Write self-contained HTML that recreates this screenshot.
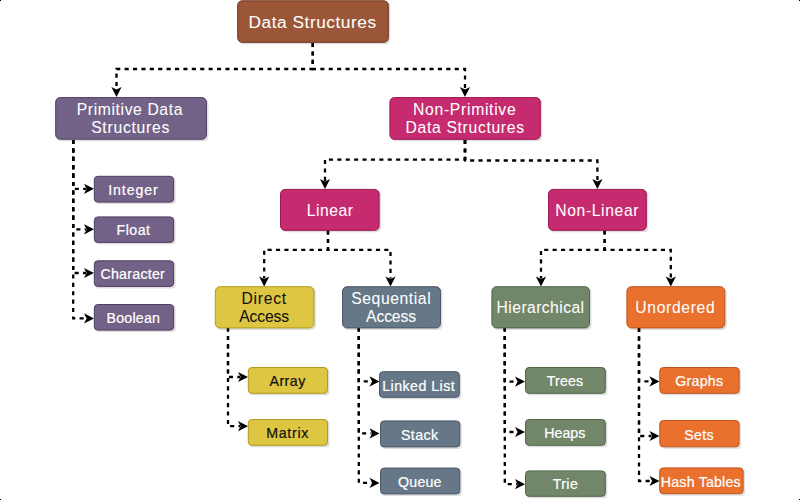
<!DOCTYPE html>
<html><head><meta charset="utf-8"><style>
html,body{margin:0;padding:0;background:#fff;width:800px;height:500px;overflow:hidden}
svg{display:block}
text{font-family:"Liberation Sans",sans-serif}
</style></head><body>
<svg width="800" height="500" viewBox="0 0 800 500">
<g fill="none" stroke="#000" stroke-width="2.3" stroke-dasharray="4.1 4.3">
<path d="M312.7 43 L312.7 69 L116.5 69 L116.5 89"/>
<path d="M312.7 43 L312.7 69 L465 69 L465 89"/>
<path d="M464.6 140 L464.6 159.6 L325 159.6 L325 181"/>
<path d="M465.4 140 L465.4 160.5 L597.4 160.5 L597.4 181"/>
<path d="M328 230.5 L328 249.8 L264.2 249.8 L264.2 278.5"/>
<path d="M328 230.5 L328 249.8 L390.5 249.8 L390.5 278.5"/>
<path d="M604.6 230.5 L604.6 249.8 L541 249.8 L541 278.5"/>
<path d="M604.6 230.5 L604.6 249.8 L670.8 249.8 L670.8 278.5"/>
<path d="M73.2 140 L73.2 188.8 L86 188.8"/>
<path d="M73.2 140 L73.2 229.3 L86 229.3"/>
<path d="M73.2 140 L73.2 273 L86 273"/>
<path d="M73.2 140 L73.2 318.4 L86 318.4"/>
<path d="M228 327.5 L228 377 L240 377"/>
<path d="M228 327.5 L228 426.2 L240 426.2"/>
<path d="M358.8 327.5 L358.8 381.4 L371.5 381.4"/>
<path d="M358.8 327.5 L358.8 433.4 L371.5 433.4"/>
<path d="M358.8 327.5 L358.8 482.9 L371.5 482.9"/>
<path d="M504.8 327.5 L504.8 381.6 L517 381.6"/>
<path d="M504.8 327.5 L504.8 432 L517 432"/>
<path d="M504.8 327.5 L504.8 484.2 L517 484.2"/>
<path d="M639 328 L639 381.4 L651.5 381.4"/>
<path d="M639 328 L639 436 L651.5 436"/>
<path d="M639 328 L639 481 L651.5 481"/>
</g>
<g fill="#000"><path d="M116.5 97 L111.4 87 L116.5 89.6 L121.6 87 Z"/><path d="M465 97 L459.9 87 L465 89.6 L470.1 87 Z"/><path d="M325 189 L319.9 179 L325 181.6 L330.1 179 Z"/><path d="M597.4 189 L592.3 179 L597.4 181.6 L602.5 179 Z"/><path d="M264.2 286.5 L259.09999999999997 276.5 L264.2 279.1 L269.3 276.5 Z"/><path d="M390.5 286.5 L385.4 276.5 L390.5 279.1 L395.6 276.5 Z"/><path d="M541 286.5 L535.9 276.5 L541 279.1 L546.1 276.5 Z"/><path d="M670.8 286.5 L665.6999999999999 276.5 L670.8 279.1 L675.9 276.5 Z"/><path d="M94 188.8 L84 183.70000000000002 L86.6 188.8 L84 193.9 Z"/><path d="M94 229.3 L84 224.20000000000002 L86.6 229.3 L84 234.4 Z"/><path d="M94 273 L84 267.9 L86.6 273 L84 278.1 Z"/><path d="M94 318.4 L84 313.29999999999995 L86.6 318.4 L84 323.5 Z"/><path d="M248 377 L238 371.9 L240.6 377 L238 382.1 Z"/><path d="M248 426.2 L238 421.09999999999997 L240.6 426.2 L238 431.3 Z"/><path d="M379.5 381.4 L369.5 376.29999999999995 L372.1 381.4 L369.5 386.5 Z"/><path d="M379.5 433.4 L369.5 428.29999999999995 L372.1 433.4 L369.5 438.5 Z"/><path d="M379.5 482.9 L369.5 477.79999999999995 L372.1 482.9 L369.5 488.0 Z"/><path d="M525 381.6 L515 376.5 L517.6 381.6 L515 386.70000000000005 Z"/><path d="M525 432 L515 426.9 L517.6 432 L515 437.1 Z"/><path d="M525 484.2 L515 479.09999999999997 L517.6 484.2 L515 489.3 Z"/><path d="M659.5 381.4 L649.5 376.29999999999995 L652.1 381.4 L649.5 386.5 Z"/><path d="M659.5 436 L649.5 430.9 L652.1 436 L649.5 441.1 Z"/><path d="M659.5 481 L649.5 475.9 L652.1 481 L649.5 486.1 Z"/></g>
<rect x="238.7" y="1.8" width="151.60000000000002" height="42.5" rx="4.5" fill="#000" opacity="0.13"/>
<rect x="237.7" y="0.8" width="150.60000000000002" height="41.5" rx="4.5" fill="#9A5636" stroke="#6E3419" stroke-width="1"/>
<rect x="56.7" y="98.6" width="151.7" height="42.599999999999994" rx="4.5" fill="#000" opacity="0.13"/>
<rect x="55.7" y="97.6" width="150.7" height="41.599999999999994" rx="4.5" fill="#736287" stroke="#4E3F63" stroke-width="1"/>
<rect x="390.9" y="98.6" width="151.39999999999998" height="42.70000000000002" rx="4.5" fill="#000" opacity="0.13"/>
<rect x="389.9" y="97.6" width="150.39999999999998" height="41.70000000000002" rx="4.5" fill="#C62A6F" stroke="#9C1650" stroke-width="1"/>
<rect x="95.3" y="177.3" width="80.3" height="26.799999999999983" rx="3.5" fill="#000" opacity="0.13"/>
<rect x="94.3" y="176.3" width="79.3" height="25.799999999999983" rx="3.5" fill="#736287" stroke="#4E3F63" stroke-width="1"/>
<rect x="95.3" y="217.9" width="80.3" height="26.5" rx="3.5" fill="#000" opacity="0.13"/>
<rect x="94.3" y="216.9" width="79.3" height="25.5" rx="3.5" fill="#736287" stroke="#4E3F63" stroke-width="1"/>
<rect x="95.3" y="261.8" width="80.3" height="26.599999999999966" rx="3.5" fill="#000" opacity="0.13"/>
<rect x="94.3" y="260.8" width="79.3" height="25.599999999999966" rx="3.5" fill="#736287" stroke="#4E3F63" stroke-width="1"/>
<rect x="95.3" y="305.5" width="80.3" height="26.600000000000023" rx="3.5" fill="#000" opacity="0.13"/>
<rect x="94.3" y="304.5" width="79.3" height="25.600000000000023" rx="3.5" fill="#736287" stroke="#4E3F63" stroke-width="1"/>
<rect x="281.5" y="190.4" width="99.60000000000002" height="41.900000000000006" rx="4.5" fill="#000" opacity="0.13"/>
<rect x="280.5" y="189.4" width="98.60000000000002" height="40.900000000000006" rx="4.5" fill="#C62A6F" stroke="#9C1650" stroke-width="1"/>
<rect x="549.5" y="190.4" width="98.79999999999995" height="41.900000000000006" rx="4.5" fill="#000" opacity="0.13"/>
<rect x="548.5" y="189.4" width="97.79999999999995" height="40.900000000000006" rx="4.5" fill="#C62A6F" stroke="#9C1650" stroke-width="1"/>
<rect x="216.3" y="287.7" width="99.59999999999997" height="42.19999999999999" rx="4.5" fill="#000" opacity="0.13"/>
<rect x="215.3" y="286.7" width="98.59999999999997" height="41.19999999999999" rx="4.5" fill="#DEC642" stroke="#B09A20" stroke-width="1"/>
<rect x="343.5" y="287.7" width="99" height="42.19999999999999" rx="4.5" fill="#000" opacity="0.13"/>
<rect x="342.5" y="286.7" width="98" height="41.19999999999999" rx="4.5" fill="#667788" stroke="#4A5868" stroke-width="1"/>
<rect x="492.9" y="287.7" width="98.60000000000002" height="42.19999999999999" rx="4.5" fill="#000" opacity="0.13"/>
<rect x="491.9" y="286.7" width="97.60000000000002" height="41.19999999999999" rx="4.5" fill="#728769" stroke="#526649" stroke-width="1"/>
<rect x="627.9" y="287.7" width="98.89999999999998" height="42.19999999999999" rx="4.5" fill="#000" opacity="0.13"/>
<rect x="626.9" y="286.7" width="97.89999999999998" height="41.19999999999999" rx="4.5" fill="#E9702D" stroke="#C0541A" stroke-width="1"/>
<rect x="249.3" y="368.5" width="80.19999999999999" height="26.80000000000001" rx="3.5" fill="#000" opacity="0.13"/>
<rect x="248.3" y="367.5" width="79.19999999999999" height="25.80000000000001" rx="3.5" fill="#DEC642" stroke="#B09A20" stroke-width="1"/>
<rect x="249.3" y="420.5" width="80.19999999999999" height="26.80000000000001" rx="3.5" fill="#000" opacity="0.13"/>
<rect x="248.3" y="419.5" width="79.19999999999999" height="25.80000000000001" rx="3.5" fill="#DEC642" stroke="#B09A20" stroke-width="1"/>
<rect x="380.5" y="372.7" width="80.80000000000001" height="26.600000000000023" rx="3.5" fill="#000" opacity="0.13"/>
<rect x="379.5" y="371.7" width="79.80000000000001" height="25.600000000000023" rx="3.5" fill="#667788" stroke="#4A5868" stroke-width="1"/>
<rect x="381.5" y="421.9" width="80.30000000000001" height="27.0" rx="3.5" fill="#000" opacity="0.13"/>
<rect x="380.5" y="420.9" width="79.30000000000001" height="26.0" rx="3.5" fill="#667788" stroke="#4A5868" stroke-width="1"/>
<rect x="381.5" y="469.1" width="80.30000000000001" height="26.799999999999955" rx="3.5" fill="#000" opacity="0.13"/>
<rect x="380.5" y="468.1" width="79.30000000000001" height="25.799999999999955" rx="3.5" fill="#667788" stroke="#4A5868" stroke-width="1"/>
<rect x="526.5" y="368.5" width="80.79999999999995" height="26.80000000000001" rx="3.5" fill="#000" opacity="0.13"/>
<rect x="525.5" y="367.5" width="79.79999999999995" height="25.80000000000001" rx="3.5" fill="#728769" stroke="#526649" stroke-width="1"/>
<rect x="526.5" y="420.5" width="80.79999999999995" height="26.80000000000001" rx="3.5" fill="#000" opacity="0.13"/>
<rect x="525.5" y="419.5" width="79.79999999999995" height="25.80000000000001" rx="3.5" fill="#728769" stroke="#526649" stroke-width="1"/>
<rect x="526.5" y="471.9" width="80.79999999999995" height="26.400000000000034" rx="3.5" fill="#000" opacity="0.13"/>
<rect x="525.5" y="470.9" width="79.79999999999995" height="25.400000000000034" rx="3.5" fill="#728769" stroke="#526649" stroke-width="1"/>
<rect x="660.8" y="368.5" width="80.30000000000007" height="26.80000000000001" rx="3.5" fill="#000" opacity="0.13"/>
<rect x="659.8" y="367.5" width="79.30000000000007" height="25.80000000000001" rx="3.5" fill="#E9702D" stroke="#C0541A" stroke-width="1"/>
<rect x="660.8" y="421.5" width="80.20000000000005" height="27.30000000000001" rx="3.5" fill="#000" opacity="0.13"/>
<rect x="659.8" y="420.5" width="79.20000000000005" height="26.30000000000001" rx="3.5" fill="#E9702D" stroke="#C0541A" stroke-width="1"/>
<rect x="660.7" y="468.9" width="84.39999999999998" height="26.80000000000001" rx="3.5" fill="#000" opacity="0.13"/>
<rect x="659.7" y="467.9" width="83.39999999999998" height="25.80000000000001" rx="3.5" fill="#E9702D" stroke="#C0541A" stroke-width="1"/>
<text transform="scale(1.0,1)" x="248.51" y="28.35" font-size="17.3" fill="#fff" textLength="127.57" lengthAdjust="spacing" stroke="#fff" stroke-width="0.06">Data Structures</text>
<text transform="scale(1.0,1)" x="76.75" y="115.30" font-size="15.7" fill="#fff" textLength="105.64" lengthAdjust="spacing" stroke="#fff" stroke-width="0.06">Primitive Data</text>
<text transform="scale(1.0,1)" x="91.15" y="132.80" font-size="15.7" fill="#fff" textLength="78.25" lengthAdjust="spacing" stroke="#fff" stroke-width="0.06">Structures</text>
<text transform="scale(1.0,1)" x="413.05" y="115.10" font-size="15.7" fill="#fff" textLength="102.59" lengthAdjust="spacing" stroke="#fff" stroke-width="0.06">Non-Primitive</text>
<text transform="scale(1.0,1)" x="405.55" y="133.10" font-size="15.7" fill="#fff" textLength="118.45" lengthAdjust="spacing" stroke="#fff" stroke-width="0.06">Data Structures</text>
<text transform="scale(1.0,1)" x="108.21" y="194.60" font-size="14.2" fill="#fff" textLength="49.51" lengthAdjust="spacing" stroke="#fff" stroke-width="0.22">Integer</text>
<text transform="scale(1.0,1)" x="116.51" y="234.90" font-size="14.2" fill="#fff" textLength="33.48" lengthAdjust="spacing" stroke="#fff" stroke-width="0.22">Float</text>
<text transform="scale(1.0,1)" x="100.43" y="278.60" font-size="14.2" fill="#fff" textLength="64.41" lengthAdjust="spacing" stroke="#fff" stroke-width="0.22">Character</text>
<text transform="scale(1.0,1)" x="106.51" y="322.60" font-size="14.2" fill="#fff" textLength="53.40" lengthAdjust="spacing" stroke="#fff" stroke-width="0.22">Boolean</text>
<text transform="scale(1.0,1)" x="306.65" y="215.70" font-size="15.7" fill="#fff" textLength="46.21" lengthAdjust="spacing" stroke="#fff" stroke-width="0.06">Linear</text>
<text transform="scale(1.0,1)" x="555.25" y="215.60" font-size="15.7" fill="#fff" textLength="83.23" lengthAdjust="spacing" stroke="#fff" stroke-width="0.06">Non-Linear</text>
<text transform="scale(1.0,1)" x="241.45" y="303.70" font-size="15.7" fill="#111" textLength="44.67" lengthAdjust="spacing" stroke="#111" stroke-width="0.06">Direct</text>
<text transform="scale(1.0,1)" x="239.20" y="321.60" font-size="15.7" fill="#111" textLength="49.88" lengthAdjust="spacing" stroke="#111" stroke-width="0.06">Access</text>
<text transform="scale(1.0,1)" x="351.25" y="304.00" font-size="15.7" fill="#fff" textLength="79.39" lengthAdjust="spacing" stroke="#fff" stroke-width="0.06">Sequential</text>
<text transform="scale(1.0,1)" x="366.10" y="321.60" font-size="15.7" fill="#fff" textLength="49.88" lengthAdjust="spacing" stroke="#fff" stroke-width="0.06">Access</text>
<text transform="scale(1.0,1)" x="496.55" y="313.20" font-size="15.7" fill="#fff" textLength="87.53" lengthAdjust="spacing" stroke="#fff" stroke-width="0.06">Hierarchical</text>
<text transform="scale(1.0,1)" x="635.25" y="313.20" font-size="15.7" fill="#fff" textLength="79.48" lengthAdjust="spacing" stroke="#fff" stroke-width="0.06">Unordered</text>
<text transform="scale(1.0,1)" x="269.50" y="386.10" font-size="14.2" fill="#111" textLength="35.73" lengthAdjust="spacing" stroke="#111" stroke-width="0.22">Array</text>
<text transform="scale(1.0,1)" x="266.21" y="437.90" font-size="14.2" fill="#111" textLength="42.11" lengthAdjust="spacing" stroke="#111" stroke-width="0.22">Matrix</text>
<text transform="scale(1.0,1)" x="382.21" y="390.60" font-size="14.2" fill="#fff" textLength="72.51" lengthAdjust="spacing" stroke="#fff" stroke-width="0.22">Linked List</text>
<text transform="scale(1.0,1)" x="401.03" y="439.60" font-size="14.2" fill="#fff" textLength="36.99" lengthAdjust="spacing" stroke="#fff" stroke-width="0.22">Stack</text>
<text transform="scale(1.0,1)" x="398.03" y="486.60" font-size="14.2" fill="#fff" textLength="43.48" lengthAdjust="spacing" stroke="#fff" stroke-width="0.22">Queue</text>
<text transform="scale(1.0,1)" x="546.74" y="386.40" font-size="14.2" fill="#fff" textLength="36.29" lengthAdjust="spacing" stroke="#fff" stroke-width="0.22">Trees</text>
<text transform="scale(1.0,1)" x="544.21" y="437.90" font-size="14.2" fill="#fff" textLength="41.19" lengthAdjust="spacing" stroke="#fff" stroke-width="0.22">Heaps</text>
<text transform="scale(1.0,1)" x="552.74" y="489.30" font-size="14.2" fill="#fff" textLength="25.03" lengthAdjust="spacing" stroke="#fff" stroke-width="0.22">Trie</text>
<text transform="scale(1.0,1)" x="675.23" y="386.10" font-size="14.2" fill="#fff" textLength="47.79" lengthAdjust="spacing" stroke="#fff" stroke-width="0.22">Graphs</text>
<text transform="scale(1.0,1)" x="684.23" y="439.60" font-size="14.2" fill="#fff" textLength="29.40" lengthAdjust="spacing" stroke="#fff" stroke-width="0.22">Sets</text>
<text transform="scale(1.0,1)" x="660.81" y="486.60" font-size="14.2" fill="#fff" textLength="79.84" lengthAdjust="spacing" stroke="#fff" stroke-width="0.22">Hash Tables</text>
<g fill="#000"><rect x="0" y="0" width="1" height="1"/><rect x="799" y="0" width="1" height="1"/><rect x="0" y="499" width="1" height="1"/><rect x="799" y="499" width="1" height="1"/></g>
</svg></body></html>
